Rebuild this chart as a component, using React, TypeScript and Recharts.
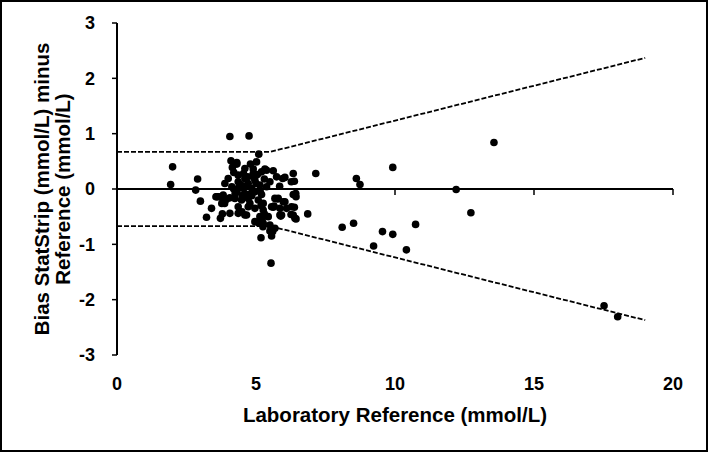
import React from "react";
import { ScatterChart, Scatter, XAxis, YAxis, ReferenceLine } from "recharts";

const xTicks = [0, 5, 10, 15, 20];
const yTicks = [-3, -2, -1, 0, 1, 2, 3];
const xTitle = "Laboratory Reference (mmol/L)";
const yTitleLine1 = "Bias StatStrip (mmol/L) minus";
const yTitleLine2 = "Reference (mmol/L)";

// reference value (mmol/L)
const refX = [
  1.93, 2.0, 2.9, 2.83, 3.0, 3.22, 4.06, 4.75, 3.72, 3.79, 3.56, 3.74, 3.87, 3.93,
  6.86, 7.15, 8.1, 5.54, 5.18, 5.56, 5.6, 5.1,
  6.44, 6.43, 6.34, 6.27, 6.04, 5.96, 6.38, 6.26, 6.44, 5.89, 5.62, 6.04, 6.1, 5.77, 5.85,
  8.51, 8.61, 8.74, 9.23, 9.55, 9.92, 9.92, 10.41, 10.74, 12.2, 12.73, 13.56, 17.52, 18.01,
  4.1, 4.31, 4.15, 4.6, 4.9, 5.2, 5.38, 5.62, 5.74, 6.38, 4.36, 4.0, 3.88, 4.13, 4.36,
  4.6, 4.72, 4.96, 5.14, 5.38, 5.5, 4.49, 4.85, 4.31, 4.6, 4.96, 5.2, 3.59, 3.82, 4.06,
  4.24, 4.48, 4.72, 5.08, 5.26, 5.68, 5.98, 6.34, 3.77, 4.36, 4.72, 4.96, 5.26, 5.56,
  5.86, 6.28, 3.4, 4.06, 4.36, 4.66, 5.14, 5.44, 5.86, 6.34, 4.96, 5.26, 5.5, 5.68, 5.5,
  4.31, 6.4, 5.92, 5.65, 5.8, 4.49, 4.6, 4.78, 3.64, 5.22, 5.3, 5.18, 5.25, 5.1, 5.02,
  4.8, 5.32, 4.55, 4.2, 4.9, 5.05, 4.4,
  4.45, 4.65, 4.85, 5.0, 4.25, 4.7, 5.15, 4.5, 4.9, 5.3, 4.2, 4.75,
];
// bias (mmol/L)
const biasY = [
  0.08, 0.4, 0.18, -0.02, -0.22, -0.51, 0.95, 0.96, -0.53, -0.45, -0.14, -0.14, -0.26, -0.19,
  -0.45, 0.28, -0.69, -1.34, -0.88, -0.85, -0.77, 0.63,
  -0.14, -0.08, 0.28, 0.13, 0.21, 0.19, -0.33, -0.46, -0.54, -0.49, -0.33, -0.23, -0.35, -0.18, 0.05,
  -0.62, 0.19, 0.08, -1.03, -0.77, -0.82, 0.39, -1.1, -0.64, -0.01, -0.43, 0.84, -2.11, -2.31,
  0.51, 0.48, 0.39, 0.37, 0.36, 0.31, 0.34, 0.33, 0.22, 0.14, 0.25, 0.19, 0.1, 0.04, 0.13,
  0.19, 0.1, 0.16, 0.07, 0.04, 0.13, 0.02, 0.01, -0.05, -0.08, -0.05, -0.1, -0.14, -0.11, -0.16,
  -0.17, -0.2, -0.17, -0.2, -0.26, -0.17, -0.23, -0.1, -0.26, -0.32, -0.32, -0.35, -0.38, -0.32,
  -0.35, -0.32, -0.35, -0.44, -0.44, -0.47, -0.5, -0.5, -0.47, -0.47, -0.59, -0.62, -0.65, -0.71, -0.76,
  0.45, -0.53, -0.47, -0.31, -0.17, -0.41, -0.47, -0.26, -0.14, -0.55, -0.45, -0.3, -0.68, -0.62, 0.49,
  0.45, 0.36, 0.28, 0.3, 0.22, 0.26, 0.05,
  0.08, 0.06, -0.12, 0.1, -0.08, 0.22, -0.04, -0.12, 0.28, 0.18, 0.0, -0.1,
];

const limitX = [0, 5.5, 19];
const upperLimitY = [0.67, 0.67, 2.37];
const lowerLimitY = [-0.67, -0.67, -2.37];
const zeroTickLen = 0.11;

const points = refX.map((x, i) => ({ x, y: biasY[i] }));
const upper = limitX.map((x, i) => ({ x, y: upperLimitY[i] }));
const lower = limitX.map((x, i) => ({ x, y: lowerLimitY[i] }));

const FONT = "'Liberation Sans', Arial, sans-serif";

const Dot = (p: any) => <circle cx={p.cx} cy={p.cy} r={3.8} fill="#000" />;
const NoDot = () => <g />;

const YTitle = (props: any) => {
  const vb = props.viewBox || { x: 0, y: 0, width: 0, height: 0 };
  const cy = vb.y + vb.height / 2;
  const x1 = 39;
  const x2 = 60;
  const style = { fontFamily: FONT, fontWeight: "bold" as const, fontSize: 20.5, fill: "#000" };
  return (
    <g>
      <text transform={`translate(${x1},${cy}) rotate(-90)`} textAnchor="middle" dominantBaseline="central" style={style}>
        {yTitleLine1}
      </text>
      <text transform={`translate(${x2},${cy}) rotate(-90)`} textAnchor="middle" dominantBaseline="central" style={style}>
        {yTitleLine2}
      </text>
    </g>
  );
};

const XTitle = (props: any) => {
  const vb = props.viewBox || { x: 0, y: 0, width: 0, height: 0 };
  return (
    <text
      x={vb.x + vb.width / 2}
      y={vb.y + 59}
      textAnchor="middle"
      dominantBaseline="central"
      style={{ fontFamily: FONT, fontWeight: "bold", fontSize: 20.5, fill: "#000" }}
    >
      {xTitle}
    </text>
  );
};

export default function App() {
  return (
    <div
      style={{
        position: "absolute",
        left: 0,
        top: 0,
        width: 708,
        height: 452,
        border: "2px solid #000",
        boxSizing: "border-box",
        background: "#fff",
      }}
    >
      <ScatterChart width={704} height={448} margin={{ top: 21, right: 33, bottom: 0, left: 0 }}>
        <XAxis
          type="number"
          dataKey="x"
          domain={[0, 20]}
          ticks={xTicks}
          allowDataOverflow
          axisLine={false}
          tickLine={false}
          tickSize={0}
          tickMargin={22}
          height={95}
          tick={{ fill: "#000", fontSize: 18, fontWeight: "bold", fontFamily: FONT }}
          label={<XTitle />}
        />
        <YAxis
          type="number"
          dataKey="y"
          domain={[-3, 3]}
          ticks={yTicks}
          allowDataOverflow
          width={115}
          axisLine={{ stroke: "#000", strokeWidth: 2 }}
          tickLine={{ stroke: "#000", strokeWidth: 1.5 }}
          tickSize={5}
          tickMargin={17}
          tick={{ fill: "#000", fontSize: 18, fontWeight: "bold", fontFamily: FONT }}
          label={<YTitle />}
        />
        <ReferenceLine y={0} stroke="#000" strokeWidth={2} />
        {xTicks
          .filter((t) => t > 0)
          .map((t) => (
            <ReferenceLine
              key={t}
              segment={[
                { x: t, y: 0 },
                { x: t, y: -zeroTickLen },
              ]}
              stroke="#000"
              strokeWidth={1.5}
            />
          ))}
        <Scatter
          data={upper}
          line={{ stroke: "#000", strokeWidth: 1.8, strokeDasharray: "5 2" }}
          shape={NoDot}
          isAnimationActive={false}
        />
        <Scatter
          data={lower}
          line={{ stroke: "#000", strokeWidth: 1.8, strokeDasharray: "5 2" }}
          shape={NoDot}
          isAnimationActive={false}
        />
        <Scatter data={points} shape={Dot} fill="#000" isAnimationActive={false} />
      </ScatterChart>
    </div>
  );
}
